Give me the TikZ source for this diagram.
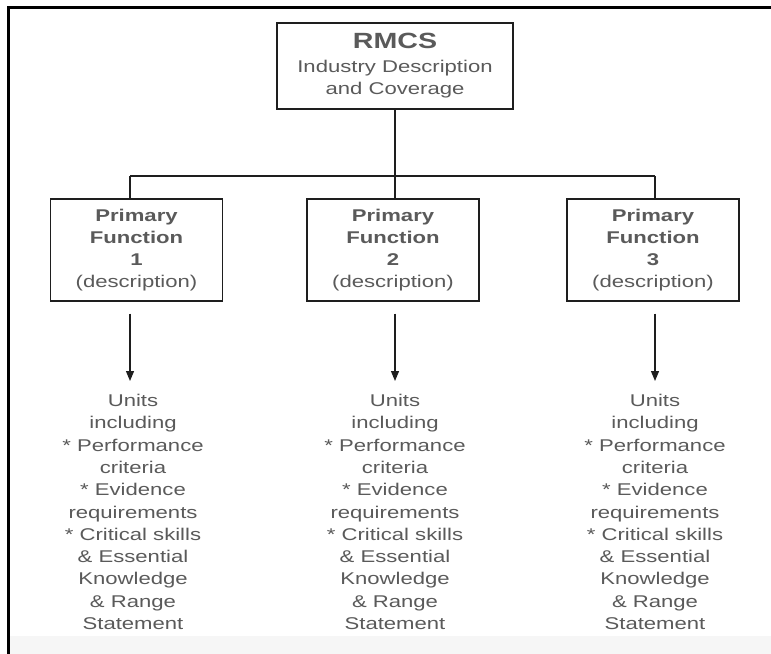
\documentclass[tikz,border=0pt]{standalone}
\usepackage{fontspec}
\setmainfont{Liberation Sans}[FakeStretch=1.3]
\usetikzlibrary{arrows.meta,calc}
\definecolor{txt}{HTML}{5A5A5A}
\definecolor{ink}{HTML}{1E1E1E}
\begin{document}
\begin{tikzpicture}[x={(1bp,0)},y={(0,-1bp)},
  box/.style={draw=ink,line width=1.4bp,rectangle,inner sep=0,align=center,text=txt,
    font=\fontsize{17bp}{22bp}\selectfont},
  fbox/.style={box,minimum width=172bp,minimum height=102bp},
  link/.style={draw=ink,line width=1.2bp},
  arr/.style={link,-{Triangle[width=8bp,length=10bp]}},
  units/.style={align=center,text=txt,inner sep=0,anchor=north,
    font=\fontsize{17bp}{22.3bp}\selectfont}]
\useasboundingbox (0,0) rectangle (771,654);
\fill[white] (0,0) rectangle (771,654);
\fill[gray!7] (9,636) rectangle (771,654);
% page frame: top and left edges only
\draw[line width=3bp,black] (8,654) -- (8,8) -- (771,8);

% top-level box
\node[box,minimum width=236bp,minimum height=86bp] (top) at (395,66)
  {{\bfseries\fontsize{22bp}{24bp}\selectfont RMCS}\\[2bp]Industry Description\\and Coverage};

% primary function boxes
\node[fbox] (b1) at (136.5,250) {\textbf{Primary}\\\textbf{Function}\\\textbf{1}\\(description)};
\node[fbox] (b2) at (393,250) {\textbf{Primary}\\\textbf{Function}\\\textbf{2}\\(description)};
\node[fbox] (b3) at (653,250) {\textbf{Primary}\\\textbf{Function}\\\textbf{3}\\(description)};

% unit descriptions
\node[units] (u1) at (133,394) {Units\\including\\* Performance\\criteria\\* Evidence\\requirements\\* Critical skills\\\& Essential\\Knowledge\\\& Range\\Statement};
\node[units] (u2) at (395,394) {Units\\including\\* Performance\\criteria\\* Evidence\\requirements\\* Critical skills\\\& Essential\\Knowledge\\\& Range\\Statement};
\node[units] (u3) at (655,394) {Units\\including\\* Performance\\criteria\\* Evidence\\requirements\\* Critical skills\\\& Essential\\Knowledge\\\& Range\\Statement};

% branching connector
\coordinate (j) at (395,176);
\coordinate (c1) at (130,176);
\coordinate (c3) at (655,176);
\draw[link] (top.south) -- (j);
\draw[link] (c1) -- (c3);
\draw[link] (c1) -- (c1 |- b1.north);
\draw[link] (j) -- (j |- b2.north);
\draw[link] (c3) -- (c3 |- b3.north);

% arrows down to the unit lists
\draw[arr] ($(b1.south -| c1)+(0,12)$) -- ($(u1.north -| c1)+(0,-13)$);
\draw[arr] ($(b2.south -| j)+(0,12)$) -- ($(u2.north -| j)+(0,-13)$);
\draw[arr] ($(b3.south -| c3)+(0,12)$) -- ($(u3.north -| c3)+(0,-13)$);
\end{tikzpicture}
\end{document}
